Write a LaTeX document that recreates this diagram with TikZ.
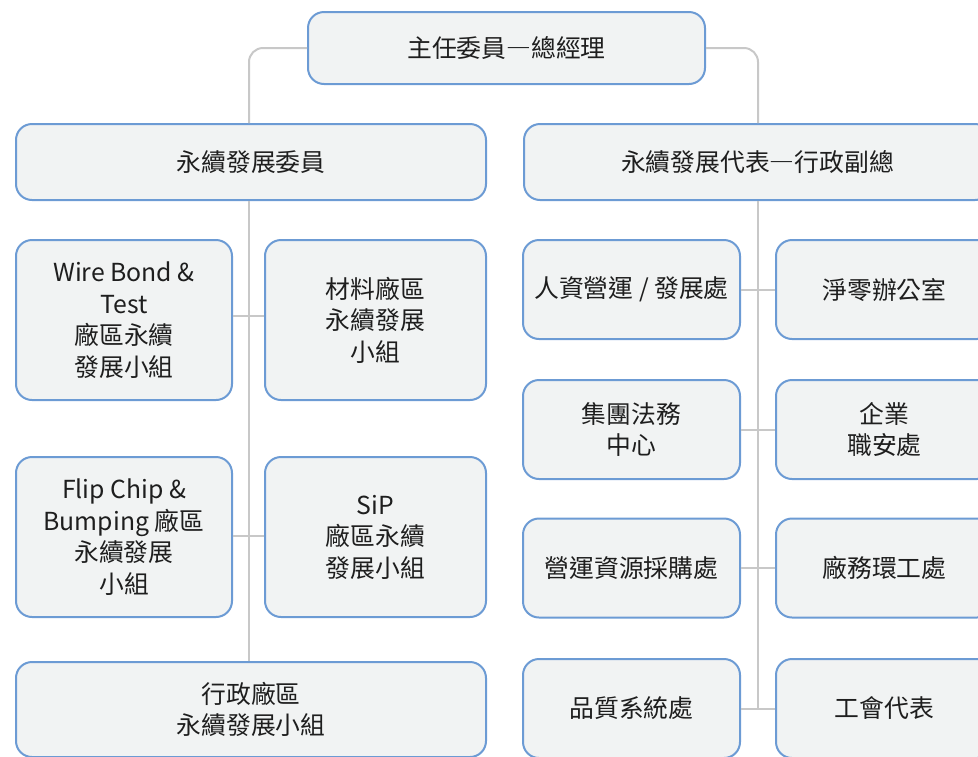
\documentclass[tikz,border=0pt]{standalone}
\usepackage{fontspec}
\setmainfont{Noto Sans CJK TC}
\definecolor{boxblue}{RGB}{108,155,212}
\definecolor{boxfill}{RGB}{241,243,243}
\definecolor{linegray}{RGB}{200,200,200}
\definecolor{txt}{RGB}{30,30,30}
\tikzset{
  orgbox/.style={draw=boxblue, fill=boxfill, line width=2pt, rounded corners=16pt,
    align=center, text=txt, inner sep=0pt,
    font=\fontsize{24.8}{31.5}\selectfont},
  conn/.style={draw=linegray, line width=2pt},
}
\begin{document}
\begin{tikzpicture}[x=1pt,y=-1pt]
\useasboundingbox (0,0) rectangle (978,756);
\clip (0,0) rectangle (978,756);
\coordinate (sL) at (249,0);
\coordinate (sR) at (758,0);
% top
\node[orgbox, minimum width=397pt, minimum height=72pt] (top) at (506.5,48) {主任委員―總經理};
% level 2
\node[orgbox, minimum width=470pt, minimum height=76pt] (L2a) at (251,162) {永續發展委員};
\node[orgbox, minimum width=467pt, minimum height=76pt] (L2b) at (757.5,162) {永續發展代表―行政副總};
% left group
\node[orgbox, minimum width=216pt, minimum height=160pt] (WB) at (124,320) {Wire Bond \&\\Test\\廠區永續\\發展小組};
\node[orgbox, minimum width=221pt, minimum height=160pt] (MAT) at (375.5,320) {材料廠區\\永續發展\\小組};
\node[orgbox, minimum width=216pt, minimum height=160pt] (FC) at (124,537) {Flip Chip \&\\Bumping 廠區\\永續發展\\小組};
\node[orgbox, minimum width=221pt, minimum height=160pt] (SIP) at (375.5,537) {SiP\\廠區永續\\發展小組};
\node[orgbox, minimum width=470pt, minimum height=95pt] (ADM) at (251,709.5) {行政廠區\\永續發展小組};
% right group
\node[orgbox, minimum width=217pt, minimum height=99pt] (R1L) at (631.5,289.5) {人資營運 / 發展處};
\node[orgbox, minimum width=217pt, minimum height=99pt] (R1R) at (884.5,289.5) {淨零辦公室};
\node[orgbox, minimum width=217pt, minimum height=99pt] (R2L) at (631.5,429.5) {集團法務\\中心};
\node[orgbox, minimum width=217pt, minimum height=99pt] (R2R) at (884.5,429.5) {企業\\職安處};
\node[orgbox, minimum width=217pt, minimum height=99pt] (R3L) at (631.5,568) {營運資源採購處};
\node[orgbox, minimum width=217pt, minimum height=99pt] (R3R) at (884.5,568) {廠務環工處};
\node[orgbox, minimum width=217pt, minimum height=99pt] (R4L) at (631.5,708.5) {品質系統處};
\node[orgbox, minimum width=217pt, minimum height=99pt] (R4R) at (884.5,708.5) {工會代表};
% connectors
\draw[conn, rounded corners=14pt] (top.west) -| (sL |- L2a.north);
\draw[conn, rounded corners=14pt] (top.east) -| (sR |- L2b.north);
\draw[conn] (sL |- L2a.south) -- (sL |- ADM.north);
\draw[conn] ([yshift=4pt]WB.east) -- ([yshift=4pt]MAT.west);
\draw[conn] ([yshift=1pt]FC.east) -- ([yshift=1pt]SIP.west);
\draw[conn] (sR |- L2b.south) -- (sR |- R4L.east);
\draw[conn] (R1L.east) -- (R1R.west);
\draw[conn] (R2L.east) -- (R2R.west);
\draw[conn] (R3L.east) -- (R3R.west);
\draw[conn] (R4L.east) -- (R4R.west);
\end{tikzpicture}
\end{document}
